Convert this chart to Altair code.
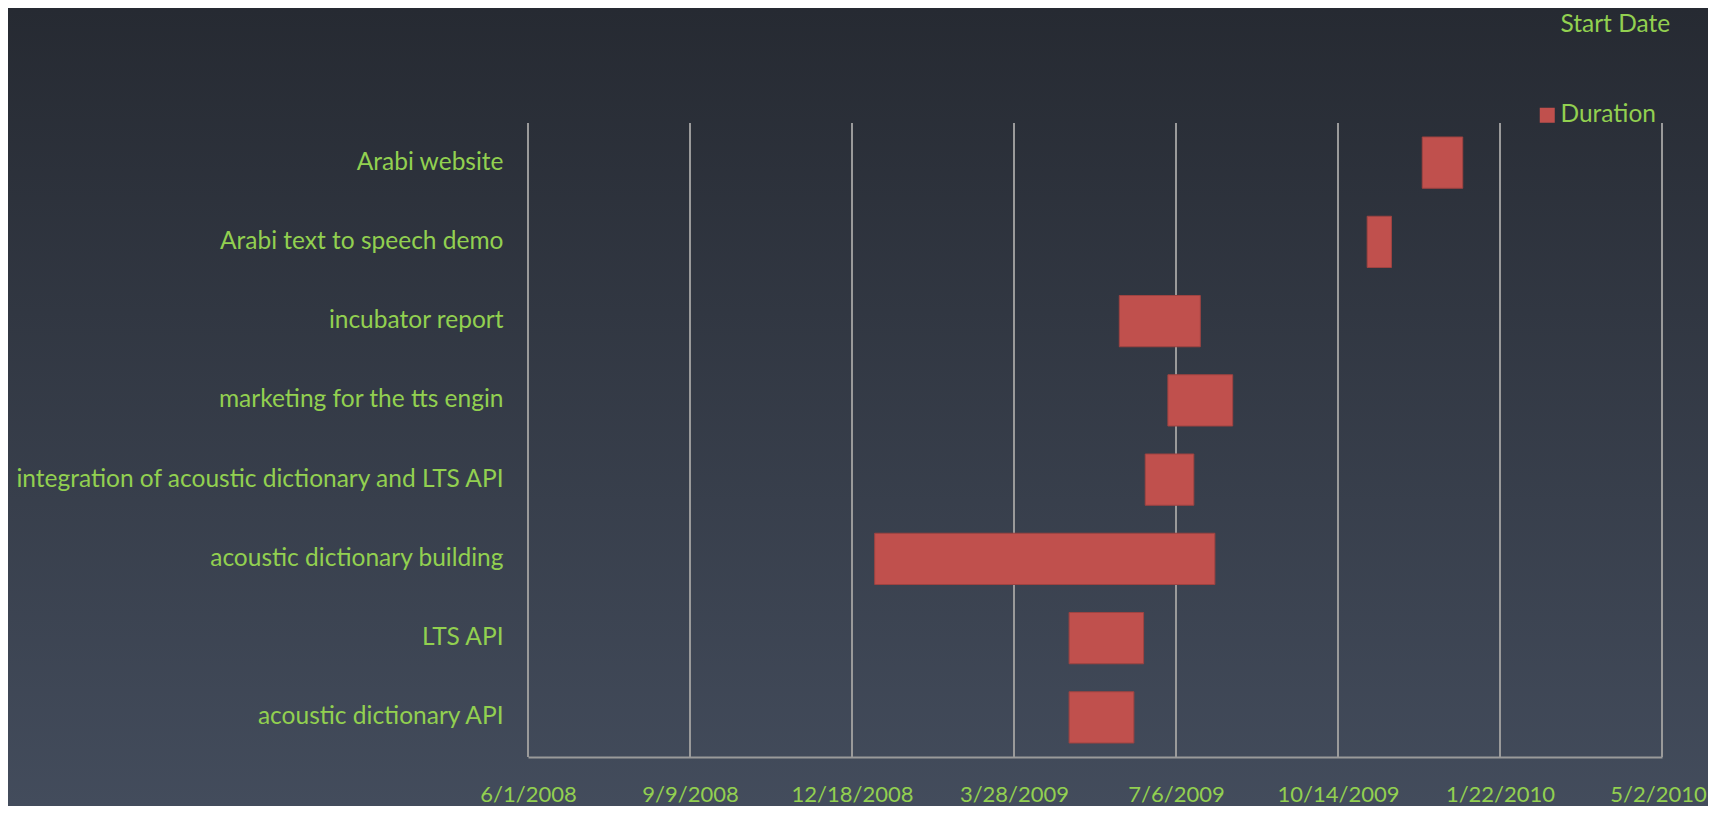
import altair as alt
import pandas as pd

# ---- data ----
tasks = [
    "Arabi website",
    "Arabi text to speech demo",
    "incubator report",
    "marketing for the tts engin ",
    "integration of acoustic dictionary and LTS API",
    "acoustic dictionary building",
    "LTS API",
    "acoustic dictionary API",
]
start_dates = [
    "2009-12-05", "2009-11-01", "2009-06-01", "2009-07-01",
    "2009-06-17", "2009-01-01", "2009-05-01", "2009-05-01",
]
durations = [25, 15, 50, 40, 30, 210, 46, 40]  # days
tick_dates = [
    "2008-06-01", "2008-09-09", "2008-12-18", "2009-03-28",
    "2009-07-06", "2009-10-14", "2010-01-22", "2010-05-02",
]
series = ["Start Date", "Duration"]

GREEN = "#92D050"
RED = "#C0504D"
GRID = "#9a9a9a"
FONT = "Lato"
FS = 24.5

W, H = 1134, 634
PAD = {"left": 520, "top": 115, "right": 46, "bottom": 49}


def dt(s):
    t = pd.Timestamp(s)
    return alt.DateTime(year=t.year, month=t.month, date=t.day)


starts = pd.to_datetime(start_dates)
bars = pd.DataFrame({
    "task": tasks,
    "start": starts.strftime("%Y-%m-%dT00:00:00"),
    "end": (starts + pd.to_timedelta(durations, unit="D")).strftime("%Y-%m-%dT00:00:00"),
    "series": series[1],
})
ticks = pd.DataFrame({"start": pd.to_datetime(tick_dates).strftime("%Y-%m-%dT00:00:00")})

xscale = alt.Scale(domain=[dt(tick_dates[0]), dt(tick_dates[-1])])
xaxis = alt.Axis(values=[dt(d) for d in tick_dates], format="%-m/%-d/%Y",
                 grid=False, ticks=False, domain=True, domainColor=GRID,
                 domainWidth=2, labelPadding=49, labelBaseline="bottom",
                 labelFontSize=22, labelColor=GREEN, labelFont=FONT, zindex=1,
                 labelOverlap=False, labelFlush=False,
                 labelOffset={"condition": {"test": "datum.index === 1", "value": -4},
                              "value": 0})

background = alt.Chart(pd.DataFrame({"a": [0]})).mark_rect(
    fill=alt.Gradient(
        gradient="linear",
        stops=[alt.GradientStop(color="#262a32", offset=0),
               alt.GradientStop(color="#434c5c", offset=1)],
        x1=0, x2=0, y1=0, y2=1,
    )
).encode(
    x=alt.value(-PAD["left"]), x2=alt.value(W + PAD["right"]),
    y=alt.value(-PAD["top"]), y2=alt.value(H + PAD["bottom"]),
)

grid = alt.Chart(ticks).mark_rule(color=GRID, strokeWidth=2).encode(
    x=alt.X("start:T", scale=xscale, title=None, axis=xaxis),
)

bar = alt.Chart(bars).mark_bar(stroke="#9e4341", strokeWidth=1).encode(
    y=alt.Y("task:N", sort=tasks, title=None,
            scale=alt.Scale(paddingInner=0.353, paddingOuter=0.1765),
            axis=alt.Axis(domain=False, ticks=False, labelPadding=25, zindex=1,
                          labelFontSize=FS, labelColor=GREEN, labelFont=FONT,
                          labelLimit=800)),
    x=alt.X("start:T", scale=xscale, title=None, axis=xaxis),
    x2="end:T",
    color=alt.Color("series:N",
                    scale=alt.Scale(domain=series, range=["rgba(0,0,0,0)", RED]),
                    legend=alt.Legend(title=None, orient="none", legendX=1007, legendY=-110,
                                      symbolType="square", symbolSize=225,
                                      symbolStrokeWidth=0, labelFontSize=24.5,
                                      labelColor=GREEN, labelFont=FONT,
                                      rowPadding=65, labelOffset=1, padding=0)),
)

chart = alt.layer(background, grid, bar).properties(
    width=W, height=H,
    autosize=alt.AutoSizeParams(type="none"),
    padding=PAD,
    background="#262a32",
).configure_view(stroke=None)

chart.save("out.html", embed_options={"renderer": "svg", "actions": False})
